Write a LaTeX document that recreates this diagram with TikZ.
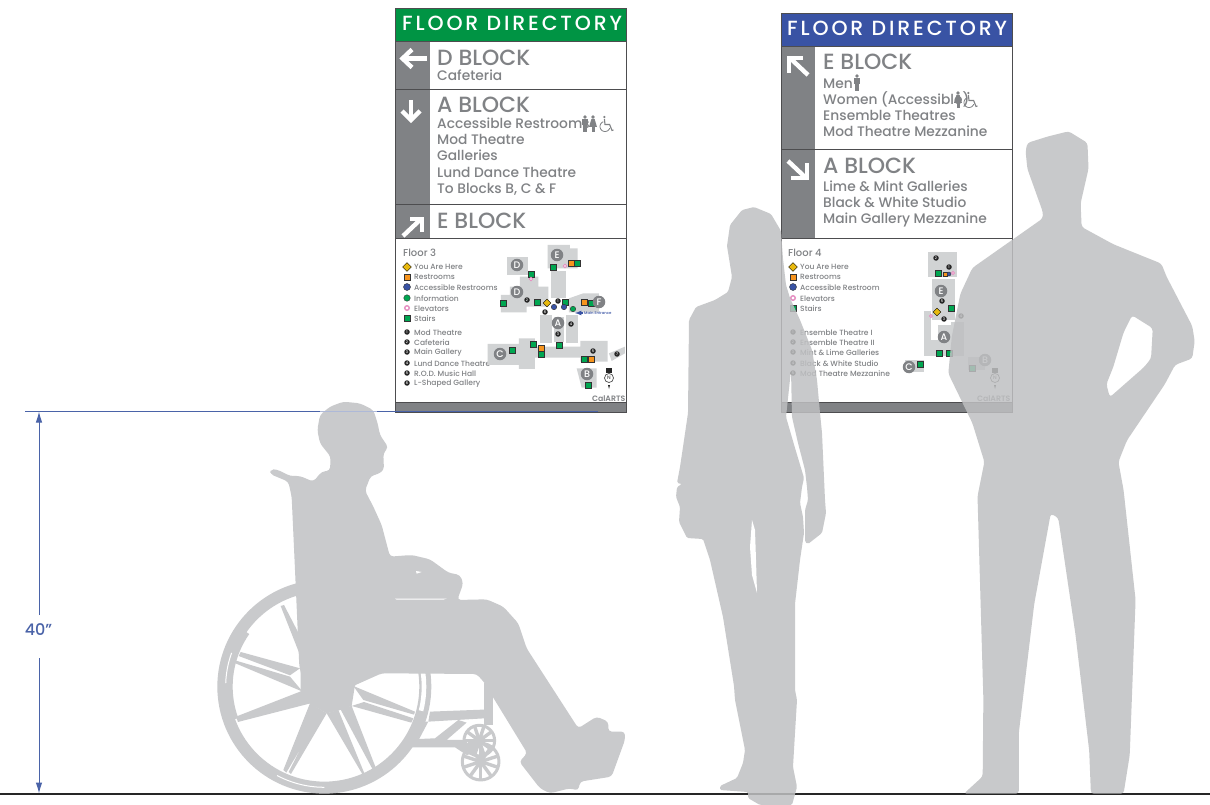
\documentclass[tikz,border=0pt]{standalone}
\usepackage{fontspec}
\setmainfont{Poppins Medium}[BoldFont=Poppins SemiBold]
\newfontfamily\hdfont[LetterSpace=14]{Poppins Medium}
\usetikzlibrary{shapes.geometric,arrows.meta}
\definecolor{sil}{HTML}{C9CACC}
\definecolor{silb}{HTML}{BFC0C2}
\definecolor{signgray}{HTML}{808285}
\definecolor{signline}{HTML}{4D4D4F}
\definecolor{mapgray}{HTML}{D1D3D4}
\definecolor{hdgreen}{HTML}{009444}
\definecolor{hdblue}{HTML}{3953A4}
\definecolor{dimblue}{HTML}{4A63A8}
\definecolor{stairc}{HTML}{00A651}
\definecolor{restc}{HTML}{F7941D}
\definecolor{herec}{HTML}{E8B90E}
\definecolor{elevc}{HTML}{E58CC0}
\tikzset{
 hd/.style={anchor=base west,inner sep=0,text=white,font=\hdfont\fontsize{20.5}{22}\selectfont},
 blocktitle/.style={anchor=base west,inner sep=0,text=signgray,font=\fontsize{22}{23}\selectfont},
 subline/.style={anchor=base west,inner sep=0,yshift=-.8pt,text=signgray,font=\fontsize{13.8}{15}\selectfont},
 floortitle/.style={anchor=base west,inner sep=0,text=signgray,font=\fontsize{10}{11}\selectfont},
 legend/.style={anchor=west,inner sep=0,yshift=-.4pt,text=signgray,font=\fontsize{7.55}{8}\selectfont},
 arroww/.style={draw=white,line width=4.4pt,miter limit=6},
 stairsym/.style={rectangle,draw=black!80,line width=.5pt,fill=stairc,minimum size=5.5pt,inner sep=0},
 restsym/.style={rectangle,draw=black!80,line width=.5pt,fill=restc,minimum size=6pt,inner sep=0},
 accsym/.style={circle,draw=black!80,line width=.4pt,fill=hdblue,minimum size=7pt,inner sep=0},
 infosym/.style={circle,draw=black!80,line width=.4pt,fill=stairc,minimum size=6.5pt,inner sep=0},
 elevsym/.style={circle,draw=elevc,line width=1.4pt,fill=white,minimum size=4.5pt,inner sep=0},
 heresym/.style={diamond,draw=black,line width=.4pt,fill=herec,minimum size=9pt,inner sep=0},
 numdot/.style={circle,fill=black!85,text=white,minimum size=5.5pt,inner sep=0,font=\fontsize{3.6}{4}\selectfont},
 letterdot/.style={circle,fill=signgray,text=white,minimum size=12.5pt,inner sep=0,font=\fontsize{9.5}{10}\selectfont},
 mapblock/.style={fill=mapgray,draw=none},
 logo/.style={anchor=base east,inner sep=0,text=signgray,font=\bfseries\fontsize{7.8}{8}\selectfont},
 manicon/.pic={\fill[signgray] (0,-7) circle (1.9); \fill[signgray] (-3.2,-5) rectangle (3.2,1.5); \fill[signgray] (-2,1) rectangle (2,8);},
 womanicon/.pic={\fill[signgray] (0,-7) circle (1.9); \fill[signgray] (-1.6,-5) -- (1.6,-5) -- (4,3) -- (-4,3) -- cycle; \fill[signgray] (-1.5,3) rectangle (1.5,8);},
 wheelicon/.pic={\draw[signgray,line width=.8pt] plot[domain=20:250,samples=24] ({-1+5*cos(\x)},{2.5+5*sin(\x)}); \fill[signgray] (-1.6,-7) circle (1.2); \draw[signgray,line width=1.1pt] (-1.6,-5) -- (-1,0.5) -- (3.6,0.5) -- (6,6.5) -- (7.5,6);},
 silhouette/.style={fill=silb,fill opacity=.85,draw=none,rounded corners=1.5pt},
}
\begin{document}
\begin{tikzpicture}[x=1pt,y=-1pt,line cap=butt]
\useasboundingbox (0,0) rectangle (1210,805);
\fill[white] (0,0) rectangle (1210,805);

% ---------- left sign
\fill[white] (395.5,8.5) rectangle (626.5,412);
\fill[hdgreen] (395.5,8.5) rectangle (626.5,42);
\fill[signgray] (395.5,42) rectangle (430,238.5);
\fill[signgray] (395.5,402) rectangle (626.5,412);
\draw[arroww] (427,58.5) -- (402,58.5); \draw[arroww] (412,49.5) -- (402.5,58.5) -- (412,67.5);
\draw[arroww] (411,100) -- (411,119); \draw[arroww] (402,111) -- (411,120) -- (420,111);
\draw[arroww] (403,236) -- (421,219); \draw[arroww] (410,219) -- (422,219) -- (422,232);
\draw[signline,line width=1pt] (395.5,8.5) rectangle (626.5,412);
\foreach \yy in {42,90,205,238.5} \draw[signline,line width=1pt] (395.5,\yy) -- (626.5,\yy);
\draw[signline,line width=1pt] (395.5,402) -- (626.5,402);
\node[hd] (lhd) at (402,31) {FLOOR DIRECTORY};
\node[blocktitle] (lt1) at (437,66) {D BLOCK};
\node[subline] (ls1) at (437,80) {Cafeteria};
\node[blocktitle] (lt2) at (437,113) {A BLOCK};
\node[subline] (ls2) at (437,127.5) {Accessible Restrooms};
\node[subline] (ls3) at (437,144) {Mod Theatre};
\node[subline] (ls4) at (437,160) {Galleries};
\node[subline] (ls5) at (437,177) {Lund Dance Theatre};
\node[subline] (ls6) at (437,193) {To Blocks B, C \& F};
\node[blocktitle] (lt3) at (437,229) {E BLOCK};
\pic at (585,124) {manicon};
\pic at (593,124) {womanicon};
\pic at (606,124) {wheelicon};

% left legend
\node[floortitle] (lfl) at (403,256) {Floor 3};
\node[heresym] (li1) at (407,267) {};
\node[restsym] (li2) at (407,277) {};
\node[accsym] (li3) at (407,287) {};
\node[infosym] (li4) at (407,298) {};
\node[elevsym] (li5) at (407,308) {};
\node[stairsym] (li6) at (407,318) {};
\node[legend] (ll1) at (414,267) {You Are Here};
\node[legend] (ll2) at (414,277) {Restrooms};
\node[legend] (ll3) at (414,287) {Accessible Restrooms};
\node[legend] (ll4) at (414,298) {Information};
\node[legend] (ll5) at (414,308) {Elevators};
\node[legend] (ll6) at (414,318) {Stairs};
\node[numdot] (ln1) at (407,332) {1};
\node[numdot] (ln2) at (407,342) {2};
\node[numdot] (ln3) at (407,352) {3};
\node[numdot] (ln4) at (407,363) {4};
\node[numdot] (ln5) at (407,373) {5};
\node[numdot] (ln6) at (407,383) {6};
\node[legend] (lm1) at (414,332) {Mod Theatre};
\node[legend] (lm2) at (414,342) {Cafeteria};
\node[legend] (lm3) at (414,352) {Main Gallery};
\node[legend] (lm4) at (414,363) {Lund Dance Theatre};
\node[legend] (lm5) at (414,373) {R.O.D. Music Hall};
\node[legend] (lm6) at (414,383) {L-Shaped Gallery};

% left map blocks
\begin{scope}[shift={(395,235)},x=.3333pt,y=-.3333pt]
\fill[mapblock] (458,30) -- (525,30) -- (525,40) -- (548,40) -- (548,100) -- (458,100) -- cycle;
\fill[mapblock] (468,108) rectangle (512,190);
\fill[mapblock] (335,65) rectangle (400,120);
\fill[mapblock] (375,125) -- (430,125) -- (430,155) -- (460,155) -- (460,215) -- (395,215) -- (395,232) -- (318,232) -- (318,180) -- (345,180) -- (345,155) -- (375,155) -- cycle;
\fill[mapblock] (522,190) -- (565,175) -- (612,175) -- (612,232) -- (522,232) -- cycle;
\fill[mapblock] (435,240) rectangle (470,325);
\fill[mapblock] (476,245) rectangle (508,320);
\fill[mapblock] (514,240) rectangle (548,325);
\fill[mapblock] (278,327) -- (372,327) -- (372,310) -- (420,310) -- (420,335) -- (556,335) -- (556,318) -- (638,318) -- (638,380) -- (556,380) -- (556,368) -- (420,368) -- (420,402) -- (372,402) -- (372,390) -- (278,390) -- cycle;
\fill[mapblock] (642,355) -- (690,335) -- (690,355) -- (650,378) -- cycle;
\fill[mapblock] (545,400) -- (605,400) -- (605,458) -- (560,458) -- cycle;
\end{scope}
\foreach \p [count=\i] in {(553,267),(577,263),(531,274),(537,302),(503,303),(565,302),(591,303),(533,344),(512,350),(559,345),(541,354),(584,359),(588,385)}
  \node[stairsym] (lst\i) at \p {};
\foreach \p [count=\i] in {(571,263),(584,302),(541,348),(591,359)}
  \node[restsym] (lre\i) at \p {};
\foreach \p [count=\i] in {(565,266),(531,279)}
  \node[elevsym,minimum size=3.5pt,line width=1pt] (lel\i) at \p {};
\foreach \p [count=\i] in {(554,307),(564,307)}
  \node[accsym,minimum size=5.5pt] (lac\i) at \p {};
\node[infosym,minimum size=5.5pt] (lif) at (573,309) {};
\node[heresym,minimum size=8pt] (lhr) at (547,303) {};
\node[numdot] (ld1) at (558,301) {1};
\node[numdot] (ld2) at (527,300) {2};
\node[numdot] (ld3) at (558,334) {3};
\node[numdot] (ld4) at (571,324) {4};
\node[numdot] (ld5) at (593,351) {5};
\node[numdot] (ld6) at (545,312) {6};
\node[numdot] (ld7) at (617,354) {7};
\node[letterdot] (lE) at (557,255) {E};
\node[letterdot] (lD1) at (517,265) {D};
\node[letterdot] (lD2) at (517,292) {D};
\node[letterdot] (lA) at (558,323) {A};
\node[letterdot] (lF) at (599,302) {F};
\node[letterdot] (lC) at (500,354) {C};
\node[letterdot] (lB) at (587,374) {B};
\coordinate (lent) at (583,313);
\coordinate (lenh) at (575,313);
\draw[hdblue,line width=1.2pt,-latex] (lent) -- (lenh);
\node[anchor=west,inner sep=0,text=hdblue,font=\fontsize{3.8}{4}\selectfont] (lme) at (584,313) {Main Entrance};
\fill[black!85] (606,368) rectangle (612,373);
\fill[black!85] (608,385) -- (610,385) -- (609,389) -- cycle;
\node[circle,draw=black!70,fill=white,line width=.7pt,minimum size=9pt,inner sep=0,text=black!70,font=\fontsize{5}{5}\selectfont] (lN) at (609,378) {N};
\node[logo] (llogo) at (625.5,401) {CalARTS};

% ---------- right sign
\fill[white] (781.5,13.5) rectangle (1012,412);
\fill[hdblue] (781.5,13.5) rectangle (1012,47);
\fill[signgray] (781.5,47) rectangle (815,238.5);
\fill[signgray] (781.5,402) rectangle (1012,412);
\draw[signline,line width=1pt] (781.5,13.5) rectangle (1012,412);
\foreach \yy in {47,150,238.5,402} \draw[signline,line width=1pt] (781.5,\yy) -- (1012,\yy);
\draw[arroww] (808,75) -- (790,58); \draw[arroww] (803,58) -- (789,58) -- (789,73);
\draw[arroww] (788,161) -- (806,178); \draw[arroww] (807,163) -- (807,178) -- (791,178);
\node[hd] (rhd) at (787,36) {FLOOR DIRECTORY};
\node[blocktitle] (rt1) at (823,70) {E BLOCK};
\node[subline] (rs1) at (823,88) {Men};
\node[subline] (rs2) at (823,104) {Women (Accessible)};
\node[subline] (rs3) at (823,120) {Ensemble Theatres};
\node[subline] (rs4) at (823,136) {Mod Theatre Mezzanine};
\node[blocktitle] (rt2) at (823,174) {A BLOCK};
\node[subline] (rs5) at (823,191) {Lime \& Mint Galleries};
\node[subline] (rs6) at (823,207) {Black \& White Studio};
\node[subline] (rs7) at (823,223) {Main Gallery Mezzanine};
\pic at (857,83) {manicon};
\pic at (958,100) {womanicon};
\pic at (970,100) {wheelicon};

\node[floortitle] (rfl) at (788,256) {Floor 4};
\node[heresym] (ri1) at (793,267) {};
\node[restsym] (ri2) at (793,277) {};
\node[accsym] (ri3) at (793,287) {};
\node[elevsym] (ri4) at (793,298) {};
\node[stairsym] (ri5) at (793,308) {};
\node[legend] (rl1) at (800,267) {You Are Here};
\node[legend] (rl2) at (800,277) {Restrooms};
\node[legend] (rl3) at (800,287) {Accessible Restroom};
\node[legend] (rl4) at (800,298) {Elevators};
\node[legend] (rl5) at (800,308) {Stairs};
\node[numdot] (rn1) at (793,332) {1};
\node[numdot] (rn2) at (793,342) {2};
\node[numdot] (rn3) at (793,352) {3};
\node[numdot] (rn4) at (793,363) {4};
\node[numdot] (rn5) at (793,373) {5};
\node[legend] (rm1) at (800,332) {Ensemble Theatre I};
\node[legend] (rm2) at (800,342) {Ensemble Theatre II};
\node[legend] (rm3) at (800,352) {Mint \& Lime Galleries};
\node[legend] (rm4) at (800,363) {Black \& White Studio};
\node[legend] (rm5) at (800,373) {Mod Theatre Mezzanine};

% right map blocks
\fill[mapblock] (928,252) -- (957,252) -- (957,277) -- (928,277) -- cycle;
\fill[mapblock] (932,279) rectangle (955,320);
\fill[mapblock] (924,311) rectangle (931,356);
\fill[mapblock] (931,340) rectangle (938,356);
\fill[mapblock] (938,325) rectangle (951,350);
\fill[mapblock] (951,322) rectangle (964,356);
\fill[mapblock] (938,350) rectangle (951,356);
\fill[mapblock] (905,360) rectangle (924,372);
\fill[mapblock] (968,357) rectangle (985,370);
\foreach \p [count=\i] in {(938,273),(951,308),(939,353),(949,353),(920,364),(972,368)}
  \node[stairsym] (rst\i) at \p {};
\node[restsym,minimum size=4pt] (rre) at (945,274) {};
\node[accsym,minimum size=4pt] (rac) at (949,274) {};
\node[elevsym,minimum size=3pt,line width=.8pt] (rel1) at (953,273) {};
\node[elevsym,minimum size=3pt,line width=.8pt] (rel2) at (931,316) {};
\node[heresym,minimum size=8pt] (rhr) at (937,312) {};
\node[numdot] (rd1) at (949,267) {1};
\node[numdot] (rd2) at (936,258) {2};
\node[numdot] (rd3) at (944,319) {3};
\node[numdot] (rd4) at (961,316) {4};
\node[numdot] (rd5) at (942,301) {5};
\node[letterdot] (rE) at (941,291) {E};
\node[letterdot] (rA) at (944,337) {A};
\node[letterdot] (rC) at (909,367) {C};
\node[letterdot] (rB) at (985,360) {B};
\fill[black!85] (992,368) rectangle (998,373);
\fill[black!85] (994,385) -- (996,385) -- (995,389) -- cycle;
\node[circle,draw=black!70,fill=white,line width=.7pt,minimum size=9pt,inner sep=0,text=black!70,font=\fontsize{5}{5}\selectfont] (rN) at (995,378) {N};
\node[logo] (rlogo) at (1010.5,401) {CalARTS};

% ---------- ground and dimension
\coordinate (g1) at (0,794); \coordinate (g2) at (1210,794);
\draw[black!85,line width=2.2pt] (g1) -- (g2);
\coordinate (dl1) at (25,411.5); \coordinate (dl2) at (598,411.5);
\coordinate (dt) at (39,411.5); \coordinate (db) at (39,793.5);
\coordinate (dm1) at (39,615); \coordinate (dm2) at (39,658);
\node[inner sep=0,text=dimblue,font=\fontsize{16}{18}\selectfont] (dim) at (38.5,630) {40"};
\draw[dimblue,line width=1pt] (dl1) -- (dl2);
\draw[dimblue,line width=1pt,-{Latex[length=11pt,width=6.5pt]}] (dm1) -- (dt);
\draw[dimblue,line width=1pt,-{Latex[length=11pt,width=6.5pt]}] (dm2) -- (db);

% ---------- wheelchair user
\begin{scope}[shift={(210,400)},x=.3333pt,y=-.3333pt]
 \draw[sil,line width=12pt] (343,860) circle (303);
 \draw[sil,line width=4pt] plot[domain=160:215,samples=20] ({343+281*cos(\x)},{860+281*sin(\x)});
 % gaps in the rim
 \draw[white,line width=1pt] plot[domain=182:200,samples=12] ({343+296*cos(\x)},{860+296*sin(\x)});
 \draw[white,line width=1pt] plot[domain=90:118,samples=14] ({343+302*cos(\x)},{860+302*sin(\x)});
 \draw[white,line width=4.6pt] plot[domain=-12:14,samples=14] ({343+299*cos(\x)},{860+299*sin(\x)});
 % hub
 \fill[sil] (272,790) -- (435,855) -- (425,918) -- (385,932) -- (350,940) -- (300,912) -- (272,875) -- cycle;
 % spokes
 \fill[sil] (212,618) -- (222,615) -- (266,700) -- (268,760) -- cycle;
 \fill[sil] (92,756) -- (270,805) -- (240,826) -- (86,768) -- cycle;
 \fill[sil] (78,782) -- (240,830) -- (278,875) -- (76,790) -- cycle;
 \fill[sil] (78,950) -- (278,872) -- (302,910) -- (84,966) -- cycle;
 \fill[sil] (220,1110) -- (300,910) -- (350,940) -- (243,1122) -- (236,1116) -- (275,1040) -- (229,1118) -- cycle;
 \fill[sil] (350,940) -- (385,930) -- (466,1127) -- (458,1124) -- cycle;
 \fill[sil] (390,925) -- (425,918) -- (498,1105) -- (490,1112) -- cycle;
 \fill[sil] (430,858) -- (615,935) -- (612,944) -- (460,900) -- cycle;
 \fill[sil] (462,906) -- (610,955) -- (604,968) -- (425,918) -- cycle;
 % frame
 \fill[sil] (660,935) -- (845,928) -- (845,975) -- (825,975) -- (825,955) -- (655,965) -- cycle;
 \fill[sil] (822,850) -- (848,850) -- (848,975) -- (822,975) -- cycle;
 \fill[sil] (605,1018) -- (675,1015) -- (745,960) -- (770,968) -- (710,1020) -- (765,1020) -- (800,1060) -- (770,1065) -- (735,1042) -- (600,1042) -- cycle;
 \fill[sil] (640,965) -- (655,965) -- (625,1022) -- (605,1022) -- cycle;
 % casters
 \draw[sil,line width=3pt] (808,1022) circle (46);
 \draw[sil,line width=3pt] (812,1085) circle (55);
 \foreach \a in {0,36,...,324} {
  \draw[sil,line width=3.4pt] (808,1022) -- +(\a:46);
  \draw[sil,line width=3.4pt] (812,1085) -- +(\a+18:55);
 }
 \fill[sil] (790,1035) circle (18); \fill[sil] (812,1085) circle (12);
 % body
 \fill[sil,rounded corners=3.5pt] (400,5) -- (450,10) -- (490,30) -- (503,70) -- (510,105) -- (535,142) -- (520,160) -- (522,210) -- (505,222) -- (482,228) -- (465,272) -- (490,320) -- (515,375) -- (540,470) -- (605,465) -- (660,478) -- (715,518) -- (750,525) -- (760,550) -- (742,600) -- (830,598) -- (880,620) -- (925,670) -- (950,745) -- (1105,985) -- (1160,950) -- (1195,965) -- (1195,995) -- (1245,995) -- (1245,1020) -- (1205,1130) -- (1110,1145) -- (1105,1172) -- (1080,1165) -- (1020,1180) -- (990,1165) -- (928,1085) -- (952,1060) -- (848,890) -- (825,850) -- (800,822) -- (515,820) -- (430,858) -- (400,910) -- (340,915) -- (290,885) -- (268,800) -- (258,575) -- (245,290) -- (235,245) -- (180,222) -- (182,208) -- (200,208) -- (240,228) -- (270,228) -- (310,245) -- (335,215) -- (360,212) -- (362,170) -- (330,130) -- (322,90) -- (330,45) -- (360,20) -- cycle;
 \fill[white] (618,513) -- (635,516) -- (620,521) -- cycle;
 \fill[white] (555,596) -- (710,596) -- (700,599) -- (560,599) -- cycle;
\end{scope}
\draw[dimblue!45,line width=1pt] (320,411.5) -- (377,411.5);

% ---------- woman
\fill[silhouette] (727,246) -- (730,225) -- (742,210) -- (754,207) -- (771,214) -- (781,231) -- (783,259) -- (786,285) -- (790,298) -- (800,320) -- (812,350) -- (817,380) -- (820,413) -- (822,433) -- (825,500) -- (826,513) -- (822,533) -- (808,544) -- (805,542) -- (805,510) -- (808,500) -- (807,487) -- (805,470) -- (798,443) -- (792,417) -- (791,370) -- (786,417) -- (795,448) -- (804,478) -- (802,487) -- (800,503) -- (803,517) -- (804,533) -- (800,560) -- (795,604) -- (795,690) -- (797,700) -- (795,733) -- (793,767) -- (797,787) -- (792,805) -- (760,805) -- (748,798) -- (748,792) -- (720,790) -- (720,786) -- (737,778) -- (743,763) -- (745,750) -- (735,700) -- (734,686) -- (723,617) -- (710,560) -- (703,539) -- (687,538) -- (679,522) -- (680,507) -- (676,497) -- (677,487) -- (682,484) -- (677,483) -- (680,467) -- (683,447) -- (688,413) -- (689,320) -- (696,307) -- (715,300) -- (728,292) -- (732,277) -- cycle;
\fill[white] (752,520) -- (750,547) -- (752,575) -- (757,593) -- (756,560) -- (755,530) -- cycle;

% ---------- man
\begin{scope}[shift={(670,130)},x=.3436pt,y=-.431pt]
 \fill[silhouette,rounded corners=3pt,even odd rule] (1040,30) -- (1100,15) -- (1160,3) -- (1215,30) -- (1218,90) -- (1195,170) -- (1198,225) -- (1290,265) -- (1430,310) -- (1445,340) -- (1520,455) -- (1527,490) -- (1520,530) -- (1470,545) -- (1440,590) -- (1330,720) -- (1305,770) -- (1320,835) -- (1355,1090) -- (1338,1450) -- (1320,1540) -- (1225,1540) -- (1220,1440) -- (1180,1170) -- (1130,900) -- (1108,890) -- (1060,1100) -- (1015,1400) -- (1015,1540) -- (855,1540) -- (910,1500) -- (912,1320) -- (895,850) -- (915,770) -- (880,680) -- (810,565) -- (820,480) -- (845,380) -- (880,320) -- (1085,205) -- (1085,190) -- (1040,90) -- (1035,50) -- cycle
 (1345,430) -- (1405,460) -- (1400,530) -- (1380,550) -- (1280,620) -- (1270,590) -- (1290,550) -- (1320,470) -- cycle;
\end{scope}
\end{tikzpicture}
\end{document}
